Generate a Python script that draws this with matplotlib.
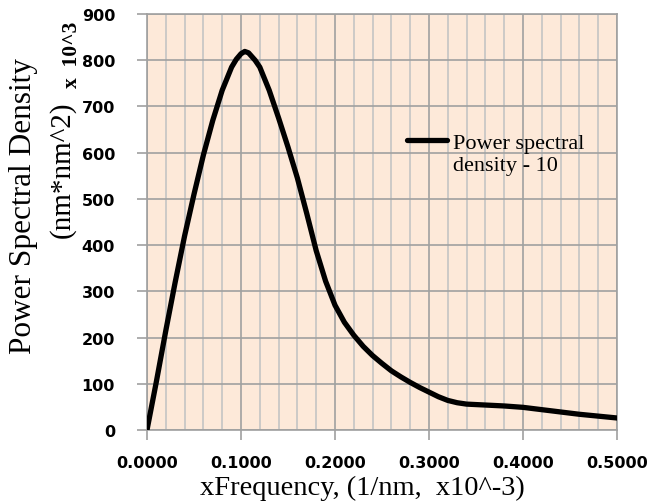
import matplotlib.pyplot as plt
from matplotlib.ticker import MultipleLocator, FormatStrFormatter

# values
freq = [0.0, 0.01, 0.02, 0.03, 0.04, 0.05, 0.06, 0.07, 0.08, 0.09, 0.095,
        0.10, 0.104, 0.108, 0.115, 0.12, 0.13, 0.14, 0.15, 0.16, 0.17, 0.18,
        0.19, 0.20, 0.21, 0.22, 0.23, 0.24, 0.25, 0.26, 0.27, 0.28, 0.29,
        0.30, 0.31, 0.32, 0.33, 0.34, 0.36, 0.38, 0.40, 0.42, 0.44, 0.46,
        0.48, 0.50]
psd = [0, 105, 215, 320, 420, 510, 595, 670, 735, 785, 802,
       814, 819, 816, 800, 785, 735, 675, 612, 545, 468, 388,
       322, 270, 233, 205, 181, 161, 144, 128, 115, 103, 92,
       82, 72, 64, 59, 56, 54, 52, 49, 44, 39, 34,
       30, 26]
series_label = 'Power spectral'
series_label_2 = 'density - 10'

serif = ['Liberation Serif', 'DejaVu Serif']

fig = plt.figure(figsize=(6.62, 5.02), dpi=100)
ax = fig.add_axes([147 / 662, 71 / 502, 470 / 662, 416 / 502])
ax.set_facecolor('#fde9d9')

ax.plot(freq, psd, color='black', lw=3.8, solid_capstyle='round',
        solid_joinstyle='round', label=series_label, zorder=3)

ax.set_xlim(0, 0.5)
ax.set_ylim(0, 900)
ax.xaxis.set_major_locator(MultipleLocator(0.1))
ax.xaxis.set_minor_locator(MultipleLocator(0.02))
ax.yaxis.set_major_locator(MultipleLocator(100))
ax.xaxis.set_major_formatter(FormatStrFormatter('%.4f'))
ax.grid(which='major', color='#a0a0a0', lw=1.2)
ax.grid(which='minor', axis='x', color='#c4c4c4', lw=1.2)
ax.set_axisbelow(True)
ax.tick_params(which='major', length=7, width=1.2, color='#a0a0a0',
               labelsize=11.5)
ax.tick_params(axis='x', pad=11)
ax.tick_params(axis='y', pad=16)
ax.tick_params(which='minor', length=0)
for lab in ax.get_xticklabels() + ax.get_yticklabels():
    lab.set_fontweight('bold')
for side in ['left', 'bottom', 'top', 'right']:
    ax.spines[side].set_color('#a0a0a0')
    ax.spines[side].set_linewidth(1.2)

ax.set_xlabel('xFrequency, (1/nm,  x10^-3)', family=serif, fontsize=20.5)
ax.xaxis.set_label_coords((362 - 147) / 470, (431 - 476) / 416)

fig.text(24 / 662, 1 - 206 / 502, 'Power Spectral Density', family=serif,
         fontsize=22.5, rotation=90, ha='center', va='center')
fig.text(62 / 662, 1 - 170 / 502, '(nm*nm^2)', family=serif,
         fontsize=21, rotation=90, ha='center', va='center')
fig.text(72 / 662, 1 - 55 / 502, 'x  10^3', family=serif, fontsize=15.5,
         fontweight='bold', rotation=90, ha='center', va='center')

leg = ax.legend(loc='upper left', bbox_to_anchor=((391 - 147) / 470, (431 - 118) / 416),
                frameon=False, prop={'family': serif, 'size': 16},
                handlelength=1.8, handletextpad=0.3, borderpad=0.2)

# second line of the legend entry, aligned under the first
fig.canvas.draw()
ext = leg.get_texts()[0].get_window_extent()
fig.text(ext.x0 / fig.bbox.width, (ext.y0 - 22) / fig.bbox.height,
         series_label_2, family=serif, fontsize=16, va='bottom')

fig.savefig('out.png', dpi=100)
